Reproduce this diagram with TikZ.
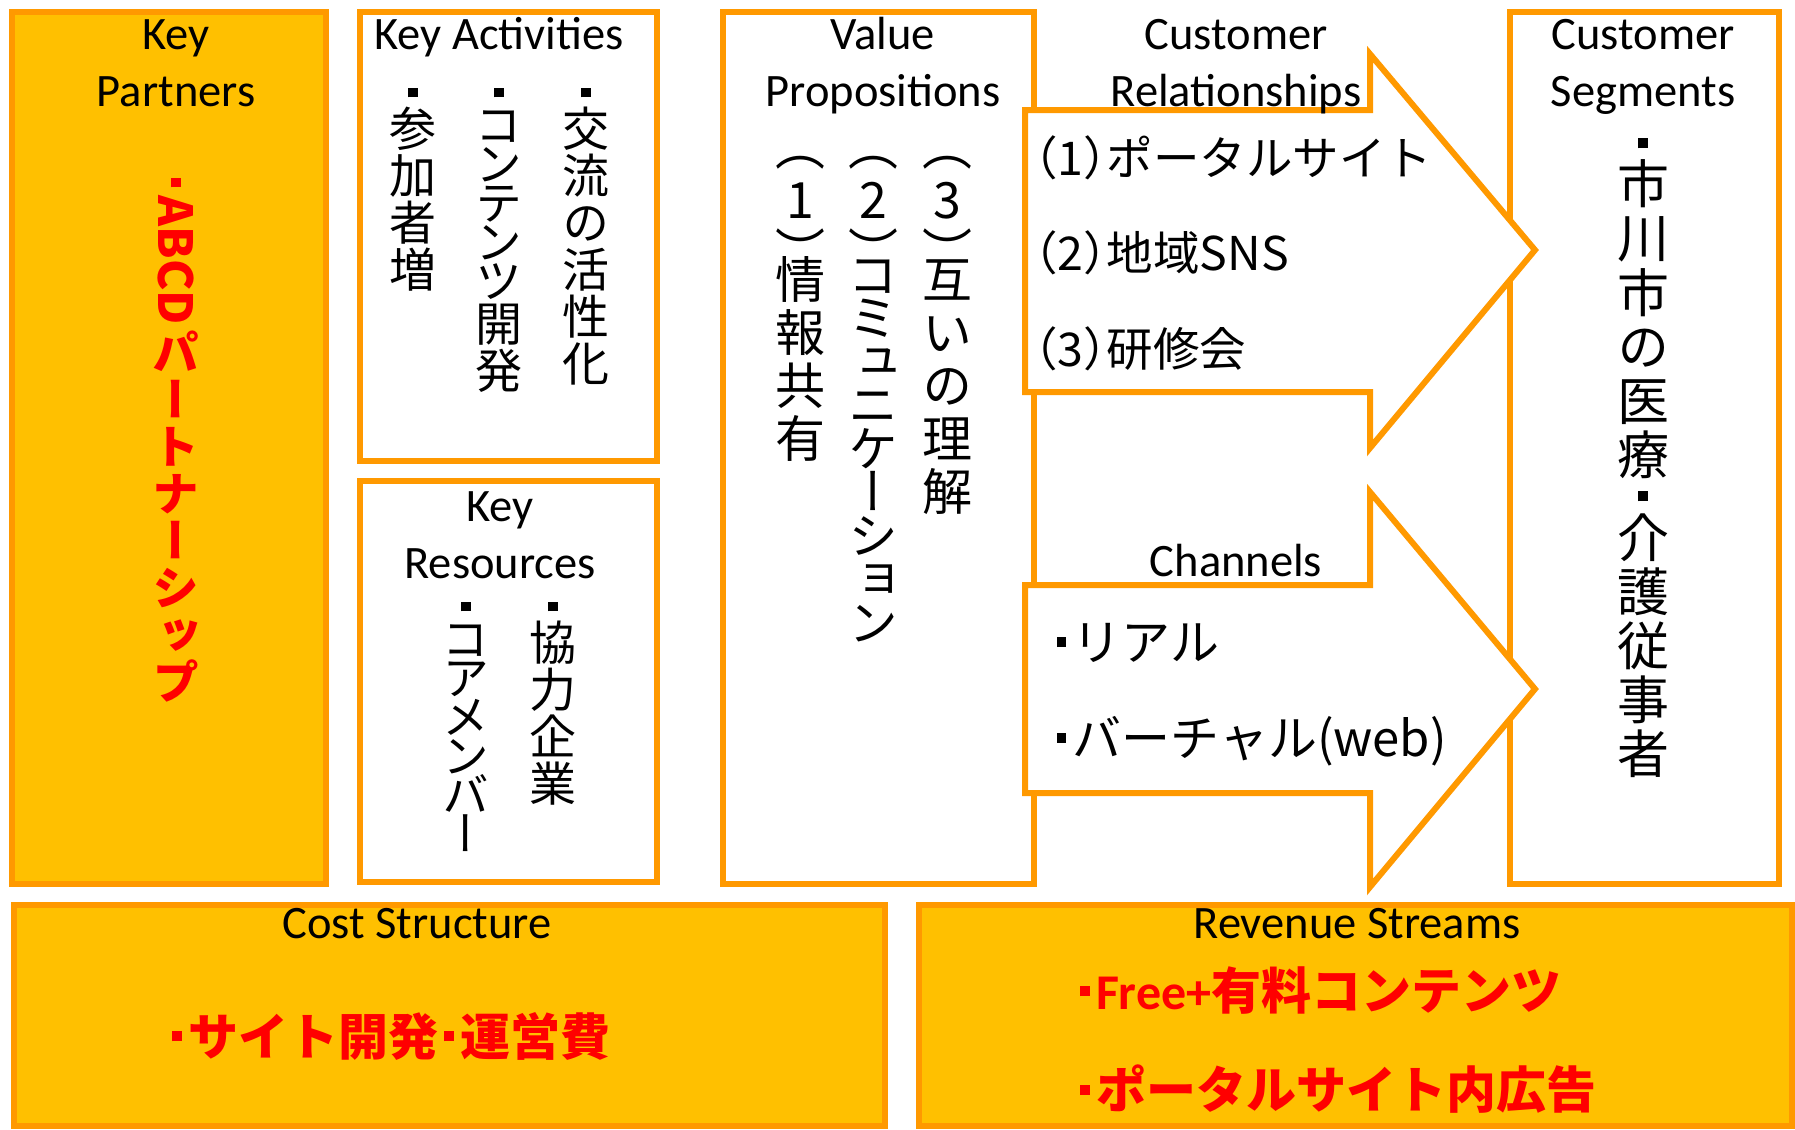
\documentclass[tikz,border=0pt]{standalone}
\usepackage{fontspec}
\usepackage{graphicx}
\setmainfont{Carlito}
\newfontfamily\jp{Noto Sans CJK JP}
\newfontfamily\vjp[RawFeature=+vert]{Noto Sans CJK JP}
\definecolor{gold}{HTML}{FFC000}
\definecolor{orng}{HTML}{FF9900}
\definecolor{redt}{HTML}{FF0000}
% square bullet
\newcommand\sqdot{\vrule width .2em height .475em depth -.275em}
% vertical stacking of characters
\newdimen\vp
\newdimen\vk
\newcommand\vbx[3]{\vbox to #1{\vskip#2\hbox to 1em{\vrule height .88em depth .12em width 0pt\hss#3\hss}\vss}}
\def\vsend{\vsend}
\def\vsR{\vsR}
\newcommand\vstack[3]{\vbox{\offinterlineskip\vp=#1\relax\vk=#2\relax\vsloop#3\vsend}}
\def\vsloop#1{%
  \ifx#1\vsend \let\vsnext\relax
  \else\ifx#1\vsR \let\vsnext\vsrot
  \else \vschar{#1}\let\vsnext\vsloop
  \fi\fi\vsnext}
\def\vsrot#1{\hbox to 1em{\hss\rotatebox{-90}{#1}\hss}\vskip.1em\vsloop}
\def\vschar#1{%
  \ifx#1・\vbx{.55em}{-.225em}{\sqdot}%
  \else\ifx#1（\vbx{.5\vp}{-.5em}{（}%
  \else\ifx#1）\vbx{.5\vp}{0pt}{）}%
  \else\ifnum`#1>"309F \ifnum`#1<"3100 \vbx{\vk}{\dimexpr(\vk-1em)/2\relax}{#1}\else\vbx{\vp}{\dimexpr(\vp-1em)/2\relax}{#1}\fi
  \else\vbx{\vp}{\dimexpr(\vp-1em)/2\relax}{#1}%
  \fi\fi\fi\fi}
\newcommand\hdot{\hbox to .45em{\hss\sqdot\hss}}
\newcommand\lpar{\hbox to .5em{\hss（}}
\newcommand\rpar{\hbox to .5em{）\hss}}
\begin{document}
\begin{tikzpicture}[x=0.4pt,y=-0.4pt,
  box/.style={draw=orng, line width=2.4pt},
  goldbox/.style={box, fill=gold},
  whitebox/.style={box, fill=white},
  ttl/.style={anchor=base, inner sep=0pt, font=\fontsize{18.6pt}{22pt}\selectfont},
  jptxt/.style={anchor=west, inner sep=0pt, font=\jp\fontsize{18.6pt}{22pt}\selectfont},
  redtxt/.style={anchor=west, inner sep=0pt, text=redt, font=\jp\bfseries\fontsize{20pt}{24pt}\selectfont},
  vcol/.style={anchor=north, inner sep=0pt, font=\vjp\fontsize{18.8pt}{22pt}\selectfont},
  vcolbig/.style={anchor=north, inner sep=0pt, font=\vjp\fontsize{20pt}{24pt}\selectfont},
]
\useasboundingbox (0,0) rectangle (1795,1129);
\fill[white] (0,0) rectangle (1795,1129);
% boxes
\draw[goldbox] (12,12) rectangle (326,884);
\draw[whitebox] (360,12) rectangle (657,461);
\draw[whitebox] (360,481) rectangle (657,882);
\draw[whitebox] (723,12) rectangle (1034,884);
\draw[whitebox] (1510,12) rectangle (1779,884);
\draw[goldbox] (14,905) rectangle (885,1126);
\draw[goldbox] (919,905) rectangle (1792,1126);
% arrows
\draw[whitebox] (1025,110) -- (1370,110) -- (1370,54) -- (1535,250) -- (1370,448) -- (1370,392) -- (1025,392) -- cycle;
\draw[whitebox] (1025,585) -- (1370,585) -- (1370,492) -- (1535,689) -- (1370,887) -- (1370,793) -- (1025,793) -- cycle;
% titles
\node[ttl] (kp1) at (176,49) {Key};
\node[ttl] (kp2) at (176,106) {Partners};
\node[ttl] (ka) at (499,49) {Key Activities};
\node[ttl] (kr1) at (500,521) {Key};
\node[ttl] (kr2) at (500,578) {Resources};
\node[ttl] (vp1) at (883,49) {Value};
\node[ttl] (vp2) at (883,106) {Propositions};
\node[ttl] (cr1) at (1236,49) {Customer};
\node[ttl] (cr2) at (1236,106) {Relationships};
\node[ttl] (cs1) at (1643,49) {Customer};
\node[ttl] (cs2) at (1643,106) {Segments};
\node[ttl] (chn) at (1236,576) {Channels};
\node[ttl] (cost) at (417,938) {Cost Structure};
\node[ttl] (rev) at (1357,938) {Revenue Streams};
% vertical texts
\node[vcol, text=redt, font=\vjp\bfseries\fontsize{18.8pt}{22pt}\selectfont] (kpt) at (176,169) {\vstack{1em}{1em}{・\vsR{ABCD}パートナーシップ}};
\node[vcol] (ka1) at (586,79) {\vstack{1em}{.83em}{・交流の活性化}};
\node[vcol] (ka2) at (499,79) {\vstack{1em}{.83em}{・コンテンツ開発}};
\node[vcol] (ka3) at (413,79) {\vstack{1em}{.83em}{・参加者増}};
\node[vcol] (kr1t) at (553,593) {\vstack{1em}{.83em}{・協力企業}};
\node[vcol] (kr2t) at (466,593) {\vstack{1em}{.83em}{・コアメンバー}};
\node[vcolbig] (vpa) at (800,146) {\vstack{1.06em}{.87em}{（1）情報共有}};
\node[vcolbig] (vpb) at (873,146) {\vstack{1.06em}{.87em}{（2）コミュニケーション}};
\node[vcolbig] (vpc) at (947,146) {\vstack{1.06em}{.87em}{（3）互いの理解}};
\node[vcol, font=\vjp\fontsize{20.8pt}{24pt}\selectfont] (cst) at (1643,128) {\vstack{1.04em}{.85em}{・市川市の医療・介護従事者}};
% horizontal texts
\node[jptxt] (cra) at (1034,158) {\lpar1\rpar ポータルサイト};
\node[jptxt] (crb) at (1034,253) {\lpar2\rpar 地域SNS};
\node[jptxt] (crc) at (1034,349) {\lpar3\rpar 研修会};
\node[jptxt, font=\jp\fontsize{19.6pt}{22pt}\selectfont] (cha) at (1050,643) {\hdot リアル};
\node[jptxt, font=\jp\fontsize{19.6pt}{22pt}\selectfont] (chb) at (1050,741) {\hdot バーチャル(web)};
\node[redtxt] (costt) at (165,1036) {\hdot サイト開発\hdot 運営費};
\node[redtxt] (reva) at (1073,991) {\hdot {\rmfamily\bfseries Free+}有料コンテンツ};
\node[redtxt] (revb) at (1073,1089) {\hdot ポータルサイト内広告};
\end{tikzpicture}
\end{document}
